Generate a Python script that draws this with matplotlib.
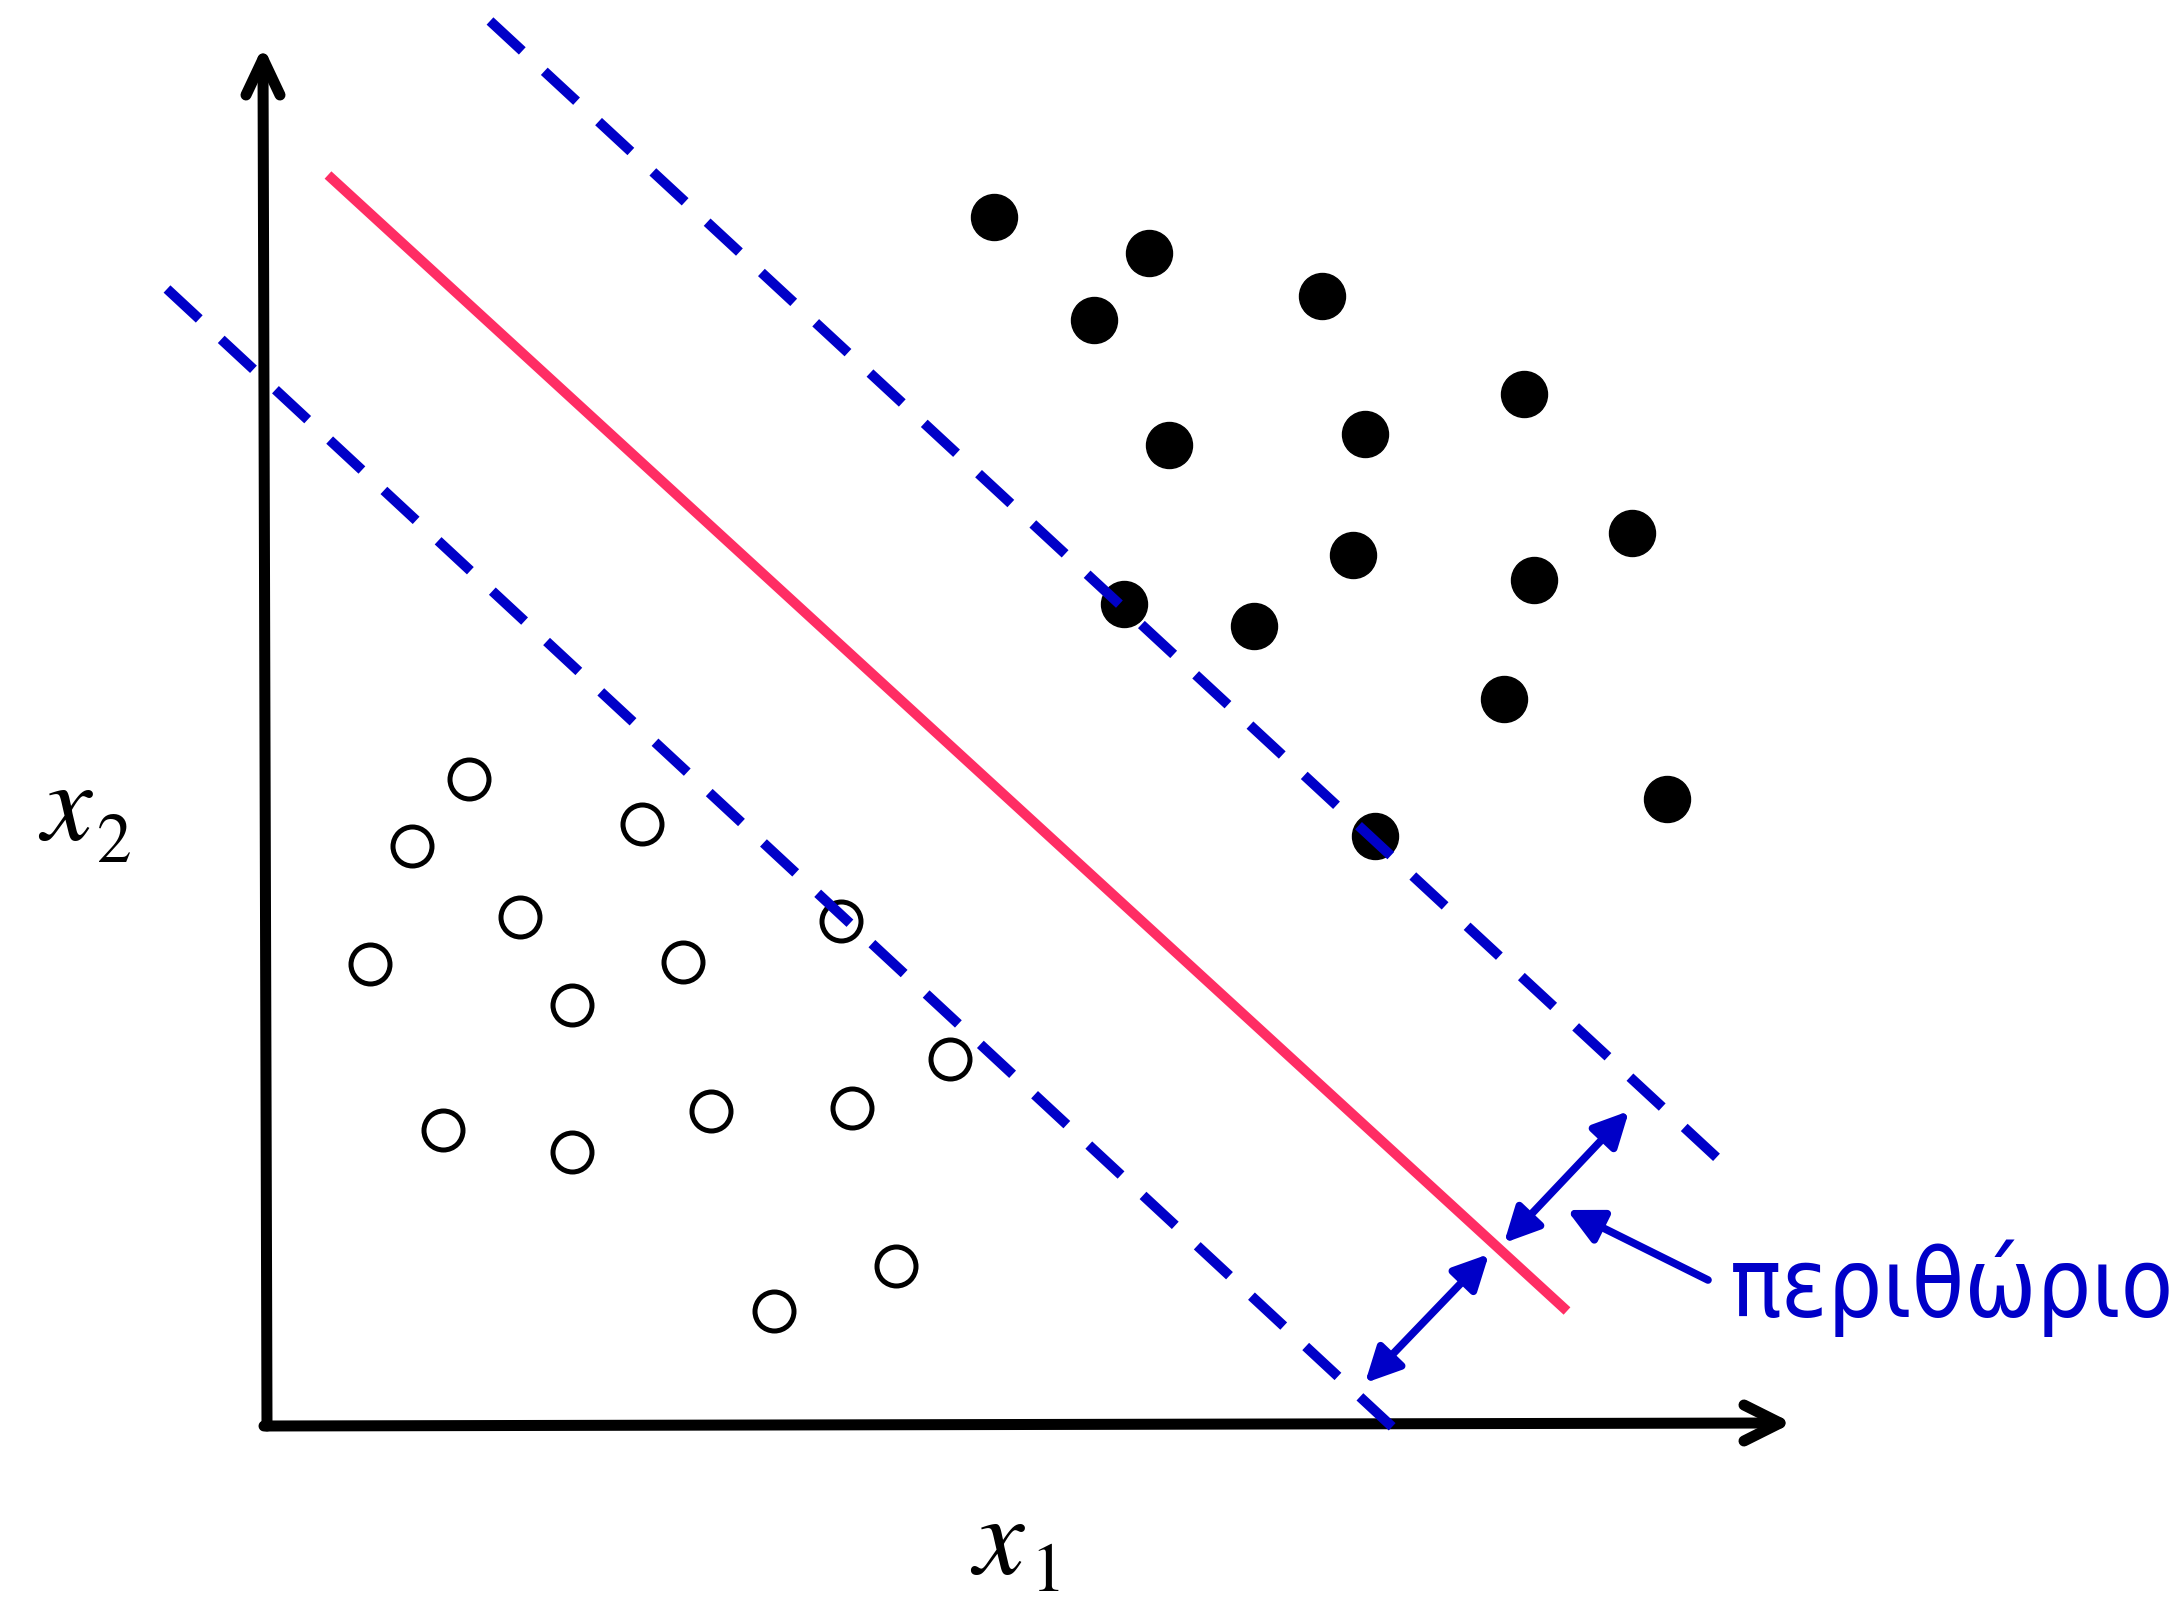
import matplotlib.pyplot as plt
from matplotlib.patches import FancyArrowPatch, ArrowStyle

plt.rcParams['lines.scale_dashes'] = False
plt.rcParams['mathtext.fontset'] = 'stix'

# canvas is laid out in pixel units (origin top-left)
W, H = 2182, 1610

# class +1 (filled) and class -1 (hollow) samples
filled_x = [994, 1149, 1094, 1322, 1524, 1169, 1365, 1632, 1353, 1534, 1124, 1254, 1504, 1375, 1667]
filled_y = [217, 253, 320, 296, 394, 445, 434, 533, 555, 580, 604, 626, 699, 836, 799]
open_x = [469, 412, 642, 520, 370, 683, 841, 572, 950, 443, 711, 852, 572, 896, 774]
open_y = [779, 846, 824, 917, 964, 962, 921, 1005, 1059, 1130, 1111, 1108, 1152, 1266, 1311]

# separating hyperplane and the two margin boundaries (end points)
boundary_x = [328, 1567]
boundary_y = [175, 1311]
upper_x = [490, 1728]
upper_y = [21, 1168]
lower_x = [167, 1401]
lower_y = [289, 1435]

# coordinate axes
xaxis_x = [264, 1780]
xaxis_y = [1426, 1423]
yaxis_x = [267, 263]
yaxis_y = [1426, 59]

# margin arrows: (start, end)
margin_arrows = [((1365, 1383), (1489, 1254)), ((1504, 1243), (1629, 1111))]
pointer_tail = (1708, 1280)
pointer_head = (1567, 1210)

BLUE = '#0000C8'
RED = '#FF2D64'
px = 0.72  # pixels -> points at dpi 100

fig = plt.figure(figsize=(W / 100, H / 100), dpi=100)
ax = fig.add_axes([0, 0, 1, 1])
ax.set_xlim(0, W)
ax.set_ylim(H, 0)
ax.axis('off')

# axes with open chevron heads
ax_kw = dict(color='black', lw=11 * px, solid_capstyle='round', solid_joinstyle='round', zorder=2)
ax.plot(xaxis_x, xaxis_y, **ax_kw)
ax.plot(yaxis_x, yaxis_y, **ax_kw)
ax.plot([xaxis_x[1] - 36, xaxis_x[1], xaxis_x[1] - 36],
        [xaxis_y[1] - 18, xaxis_y[1], xaxis_y[1] + 18], **ax_kw)
ax.plot([yaxis_x[1] - 17, yaxis_x[1], yaxis_x[1] + 17],
        [yaxis_y[1] + 36, yaxis_y[1], yaxis_y[1] + 36], **ax_kw)

# samples
ax.plot(filled_x, filled_y, 'o', ms=46 * px, color='black', zorder=3)
ax.plot(open_x, open_y, 'o', ms=39 * px, mfc='white', mec='black', mew=5 * px, zorder=3)

# decision boundary and margins
ax.plot(boundary_x, boundary_y, color=RED, lw=10 * px, solid_capstyle='butt', zorder=3)
for lx, ly in [(upper_x, upper_y), (lower_x, lower_y)]:
    ax.plot(lx, ly, color=BLUE, lw=10 * px, dashes=(44 * px, 30 * px),
            dash_capstyle='butt', zorder=4)

# margin width arrows
style2 = ArrowStyle('<|-|>', head_length=21, head_width=10.5)
for a, b in margin_arrows:
    ax.add_patch(FancyArrowPatch(a, b, arrowstyle=style2, mutation_scale=1,
                                 lw=5.5, color=BLUE, shrinkA=0, shrinkB=0, zorder=5))
ax.add_patch(FancyArrowPatch(pointer_tail, pointer_head,
                             arrowstyle=ArrowStyle('-|>', head_length=21, head_width=10.5),
                             mutation_scale=1, lw=5.5, color=BLUE, shrinkA=0, shrinkB=0, zorder=5))

ax.text(1730, 1317, 'περιθώριο', color=BLUE, fontsize=69, family='DejaVu Sans',
        stretch='condensed', ha='left', va='baseline')

# axis labels: italic x with a large upright subscript
ax.text(38, 840, '$x$', fontsize=82, ha='left', va='baseline')
ax.text(97, 862, '2', fontsize=50, family='STIXGeneral', ha='left', va='baseline')
ax.text(970, 1574, '$x$', fontsize=82, ha='left', va='baseline')
ax.text(1030, 1606, '1', fontsize=50, family='STIXGeneral', ha='left', va='bottom')

fig.savefig('out.png', dpi=100)
